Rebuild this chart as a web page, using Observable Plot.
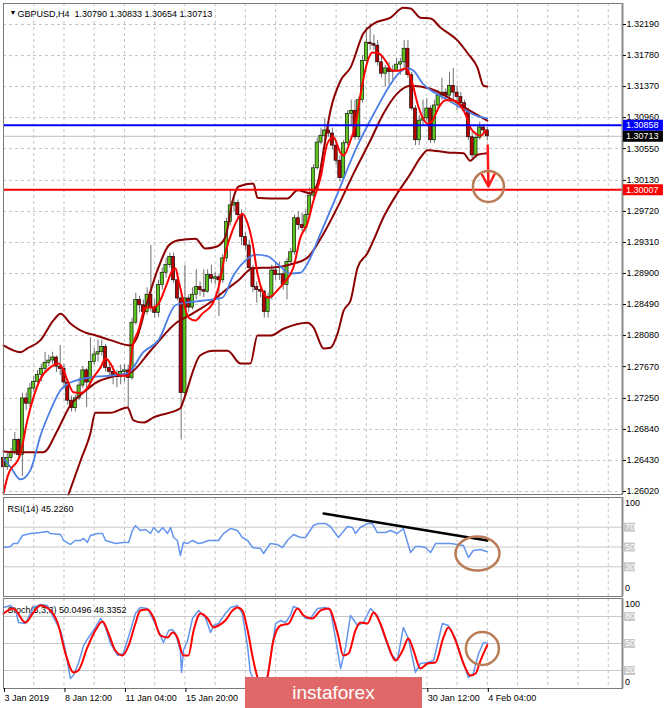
<!DOCTYPE html>
<html><head><meta charset="utf-8">
<script src="https://cdn.jsdelivr.net/npm/d3@7"></script>
<script src="https://cdn.jsdelivr.net/npm/@observablehq/plot@0.6"></script>
<style>
body{margin:0;background:#fff;}
#wrap{position:relative;width:665px;height:708px;overflow:hidden;background:#fff;}
#wrap svg{position:absolute;left:0;top:0;}
#wm{position:absolute;left:245px;top:677px;width:177px;height:31px;background:#e06868;color:#fff;font:19px "Liberation Sans",Arial,sans-serif;display:flex;align-items:center;justify-content:center;}
</style></head><body><div id="wrap"></div>
<script>
// ---------- DATA ----------
const header = "GBPUSD,H4  1.30790 1.30833 1.30654 1.30713";
const priceTicks = [1.26020,1.26430,1.26840,1.27250,1.27670,1.28080,1.28490,1.28900,1.29310,1.29720,1.30130,1.30550,1.30960,1.31370,1.31780,1.32190];
const open = [1.2646,1.2634,1.2646,1.2654,1.2670,1.2650,1.2725,1.2718,1.2738,1.2747,1.2756,1.2764,1.2772,1.2775,1.2779,1.2767,1.2764,1.2746,1.2722,1.2712,1.2725,1.2742,1.2762,1.2746,1.2773,1.2783,1.2786,1.2793,1.2765,1.2760,1.2756,1.2753,1.2760,1.2762,1.2752,1.2825,1.2855,1.2848,1.2839,1.2862,1.2845,1.2838,1.2875,1.2891,1.2901,1.2912,1.2881,1.2857,1.2732,1.2857,1.2845,1.2862,1.2872,1.2868,1.2866,1.2888,1.2883,1.2885,1.2881,1.2910,1.2958,1.2980,1.2983,1.2967,1.2938,1.2927,1.2897,1.2872,1.2868,1.2866,1.2839,1.2859,1.2894,1.2888,1.2889,1.2875,1.2905,1.2918,1.2963,1.2954,1.2950,1.2967,1.2993,1.3029,1.3063,1.3072,1.3079,1.3075,1.3059,1.3039,1.3016,1.3062,1.3101,1.3105,1.3070,1.3119,1.3171,1.3195,1.3193,1.3191,1.3169,1.3154,1.3161,1.3156,1.3158,1.3166,1.3169,1.3187,1.3152,1.3108,1.3066,1.3092,1.3095,1.3108,1.3066,1.3112,1.3125,1.3129,1.3125,1.3138,1.3129,1.3123,1.3115,1.3105,1.3070,1.3046,1.3069,1.3083,1.30790];
const high = [1.2650,1.2654,1.2659,1.2680,1.2672,1.2732,1.2732,1.2745,1.2754,1.2762,1.2770,1.2786,1.2782,1.2786,1.2781,1.2795,1.2770,1.2749,1.2728,1.2729,1.2752,1.2767,1.2765,1.2805,1.2791,1.2802,1.2802,1.2796,1.2773,1.2768,1.2762,1.2769,1.2770,1.2769,1.2831,1.2864,1.2860,1.2855,1.2871,1.2927,1.2855,1.2881,1.2897,1.2910,1.2917,1.2917,1.2887,1.2868,1.2901,1.2862,1.2871,1.2895,1.2879,1.2895,1.2895,1.2901,1.2892,1.2889,1.2915,1.2963,1.3000,1.2990,1.2987,1.2974,1.2944,1.2934,1.2901,1.2879,1.2876,1.2868,1.2864,1.2901,1.2904,1.2905,1.2894,1.2910,1.2923,1.2967,1.2971,1.2970,1.2974,1.3003,1.3034,1.3069,1.3082,1.3095,1.3086,1.3082,1.3066,1.3046,1.3066,1.3105,1.3119,1.3119,1.3123,1.3178,1.3215,1.3220,1.3205,1.3198,1.3178,1.3165,1.3169,1.3165,1.3174,1.3174,1.3198,1.3198,1.3156,1.3112,1.3099,1.3119,1.3121,1.3112,1.3119,1.3132,1.3148,1.3134,1.3156,1.3161,1.3138,1.3129,1.3119,1.3108,1.3076,1.3075,1.3090,1.3087,1.30833];
const low = [1.2630,1.2630,1.2641,1.2650,1.2643,1.2622,1.2709,1.2713,1.2733,1.2745,1.2747,1.2759,1.2767,1.2770,1.2759,1.2755,1.2738,1.2716,1.2707,1.2707,1.2722,1.2738,1.2713,1.2743,1.2769,1.2773,1.2781,1.2760,1.2752,1.2743,1.2739,1.2743,1.2747,1.2709,1.2749,1.2822,1.2838,1.2831,1.2835,1.2839,1.2831,1.2832,1.2868,1.2884,1.2897,1.2877,1.2854,1.2670,1.2725,1.2838,1.2842,1.2855,1.2860,1.2858,1.2864,1.2877,1.2875,1.2833,1.2877,1.2905,1.2953,1.2971,1.2963,1.2927,1.2921,1.2892,1.2865,1.2851,1.2858,1.2831,1.2831,1.2855,1.2881,1.2881,1.2868,1.2855,1.2901,1.2914,1.2947,1.2945,1.2945,1.2963,1.2989,1.3027,1.3060,1.3066,1.3070,1.3053,1.3033,1.3011,1.3013,1.3059,1.3086,1.3066,1.3066,1.3115,1.3169,1.3185,1.3185,1.3164,1.3148,1.3136,1.3139,1.3145,1.3156,1.3152,1.3161,1.3148,1.3105,1.3059,1.3059,1.3086,1.3090,1.3062,1.3062,1.3108,1.3119,1.3121,1.3119,1.3119,1.3105,1.3108,1.3099,1.3066,1.3040,1.3042,1.3066,1.3072,1.30654];
const close = [1.2634,1.2646,1.2654,1.2670,1.2650,1.2725,1.2718,1.2738,1.2747,1.2756,1.2764,1.2772,1.2775,1.2779,1.2767,1.2764,1.2746,1.2722,1.2712,1.2725,1.2742,1.2762,1.2746,1.2773,1.2783,1.2786,1.2793,1.2765,1.2760,1.2756,1.2753,1.2760,1.2762,1.2752,1.2825,1.2855,1.2848,1.2839,1.2862,1.2845,1.2838,1.2875,1.2891,1.2901,1.2912,1.2881,1.2857,1.2732,1.2857,1.2845,1.2862,1.2872,1.2868,1.2866,1.2888,1.2883,1.2885,1.2881,1.2910,1.2958,1.2980,1.2983,1.2967,1.2938,1.2927,1.2897,1.2872,1.2868,1.2866,1.2839,1.2859,1.2894,1.2888,1.2889,1.2875,1.2905,1.2918,1.2963,1.2954,1.2950,1.2967,1.2993,1.3029,1.3063,1.3072,1.3079,1.3075,1.3059,1.3039,1.3016,1.3062,1.3101,1.3105,1.3070,1.3119,1.3171,1.3195,1.3193,1.3191,1.3169,1.3154,1.3161,1.3156,1.3158,1.3166,1.3169,1.3187,1.3152,1.3108,1.3066,1.3092,1.3095,1.3108,1.3066,1.3112,1.3125,1.3129,1.3125,1.3138,1.3129,1.3123,1.3115,1.3105,1.3070,1.3046,1.3069,1.3083,1.3079,1.30713];

const upperBand = [[0,1.2795],[4.5,1.2786],[6.3,1.2791],[9.8,1.2802],[13.2,1.2828],[15.1,1.2837],[17.7,1.2824],[22.2,1.2811],[23.8,1.2809],[28.3,1.2802],[33.6,1.2795],[35.2,1.2804],[37.6,1.2845],[41.0,1.2898],[43.7,1.2927],[46.3,1.2934],[50.8,1.2936],[53.4,1.2923],[56.1,1.2925],[58.7,1.2938],[60.6,1.2986],[62.2,1.3005],[66.1,1.3009],[67.2,1.2990],[70.6,1.2989],[75.1,1.2989],[77.8,1.3000],[81.2,1.2996],[83.1,1.3009],[84.7,1.3053],[86.5,1.3105],[89.2,1.3145],[91.8,1.3162],[95.2,1.3207],[97.9,1.3220],[102.4,1.3228],[105.8,1.3241],[107.7,1.3240],[110.3,1.3228],[113.0,1.3227],[115.6,1.3215],[120.1,1.3198],[122.8,1.3181],[125.4,1.3162],[127.0,1.3138],[128.0,1.3137]];
const middleBand = [[0,1.2655],[2.6,1.2654],[10.6,1.2654],[14.3,1.2683],[17.7,1.2716],[21.2,1.2733],[24.9,1.2747],[28.3,1.2753],[33.6,1.2759],[38.9,1.2788],[45.5,1.2824],[50.0,1.2837],[55.3,1.2854],[58.7,1.2868],[62.2,1.2881],[65.9,1.2897],[71.4,1.2898],[75.9,1.2902],[80.4,1.2911],[84.7,1.2943],[89.2,1.2986],[92.6,1.3022],[97.1,1.3066],[100.5,1.3101],[104.2,1.3128],[107.7,1.3138],[113.0,1.3134],[117.5,1.3123],[123.5,1.3105],[128.0,1.3092]];
const lowerBand = [[17.2,1.2598],[20.4,1.2643],[23.0,1.2679],[24.3,1.2706],[28.3,1.2706],[32.8,1.2713],[34.4,1.2696],[37.0,1.2693],[39.7,1.2700],[46.8,1.2712],[47.6,1.2722],[52.1,1.2782],[55.6,1.2788],[59.3,1.2788],[62.7,1.2771],[65.3,1.2771],[67.2,1.2808],[70.6,1.2808],[74.1,1.2817],[80.4,1.2825],[82.0,1.2819],[84.7,1.2791],[86.5,1.2792],[88.4,1.2811],[90.0,1.2841],[91.8,1.2854],[93.7,1.2898],[96.3,1.2917],[97.9,1.2934],[100.5,1.2964],[104.2,1.2996],[107.7,1.3022],[110.3,1.3043],[112.2,1.3053],[117.5,1.3050],[121.7,1.3049],[123.5,1.3039],[125.4,1.3047],[128.0,1.3049]];
const fastMA = [[0,1.2600],[1.1,1.2622],[4.5,1.2652],[6.3,1.2696],[7.9,1.2726],[9.8,1.2751],[12.4,1.2766],[14.6,1.2771],[15.9,1.2762],[17.2,1.2745],[18.5,1.2733],[20.4,1.2732],[22.2,1.2739],[23.8,1.2753],[25.7,1.2766],[27.0,1.2778],[28.3,1.2771],[29.6,1.2759],[31.0,1.2755],[33.1,1.2755],[34.1,1.2792],[35.7,1.2815],[37.6,1.2845],[39.4,1.2845],[41.0,1.2850],[42.9,1.2872],[44.7,1.2894],[45.5,1.2897],[46.3,1.2881],[47.6,1.2854],[48.9,1.2832],[50.8,1.2828],[52.6,1.2837],[55.3,1.2850],[56.9,1.2872],[58.7,1.2917],[60.6,1.2947],[62.2,1.2964],[63.2,1.2969],[64.6,1.2956],[65.9,1.2930],[67.2,1.2890],[68.8,1.2864],[70.1,1.2858],[72.5,1.2868],[74.1,1.2877],[76.7,1.2898],[78.6,1.2938],[80.4,1.2956],[82.0,1.2986],[83.9,1.3017],[85.7,1.3062],[87.3,1.3070],[89.2,1.3049],[90.0,1.3046],[91.8,1.3066],[93.1,1.3086],[94.4,1.3125],[95.8,1.3161],[97.6,1.3182],[99.2,1.3181],[101.1,1.3171],[102.9,1.3158],[104.5,1.3158],[106.4,1.3161],[108.2,1.3141],[109.5,1.3115],[110.9,1.3096],[112.2,1.3088],[113.5,1.3092],[115.1,1.3109],[116.9,1.3119],[118.8,1.3119],[120.4,1.3115],[122.2,1.3101],[123.5,1.3083],[124.9,1.3075],[126.2,1.3072],[127.5,1.3079]];
const slowMA = [[0,1.2646],[1.9,1.2634],[4.5,1.2618],[7.1,1.2630],[9.8,1.2676],[12.4,1.2709],[15.1,1.2736],[17.7,1.2746],[21.2,1.2751],[24.9,1.2754],[28.3,1.2755],[32.8,1.2758],[37.0,1.2786],[41.0,1.2802],[45.5,1.2848],[48.9,1.2852],[52.6,1.2854],[57.9,1.2858],[60.8,1.2887],[64.0,1.2907],[66.7,1.2915],[69.8,1.2913],[73.3,1.2899],[75.9,1.2890],[78.6,1.2891],[80.4,1.2903],[83.9,1.2943],[88.4,1.2996],[93.1,1.3053],[98.4,1.3105],[101.9,1.3136],[104.5,1.3154],[106.9,1.3161],[108.5,1.3158],[110.9,1.3141],[114.3,1.3128],[117.7,1.3119],[121.4,1.3108],[124.9,1.3099],[128.0,1.3095]];
const resistance = 1.30858, support = 1.30007, bid = 1.30713;

const rsiLabel = "RSI(14) 45.2260";
const rsi = [[0,49.5],[1.9,50.5],[2.6,53.5],[3.7,53.5],[5.0,61.6],[7.1,63.6],[9.8,64.6],[11.6,65.7],[12.4,63.6],[15.1,62.6],[15.9,56.6],[17.7,52.5],[19.0,56.6],[20.4,56.6],[21.2,58.6],[22.2,54.5],[23.0,61.6],[24.9,63.6],[26.2,63.6],[27.0,56.6],[28.8,54.5],[29.6,53.5],[31.7,54.5],[33.1,54.5],[34.1,66.7],[34.9,71.7],[36.2,66.7],[37.6,67.7],[38.9,63.6],[39.7,69.7],[41.0,64.6],[42.1,69.7],[43.4,63.6],[44.2,69.7],[45.0,59.6],[46.0,56.6],[46.8,41.4],[47.6,54.5],[48.7,53.5],[50.0,56.6],[51.6,53.5],[52.9,54.5],[54.2,56.6],[56.9,56.6],[58.2,63.6],[60.1,68.7],[61.9,66.7],[63.2,59.6],[64.6,56.6],[65.9,49.5],[68.0,48.5],[68.8,43.4],[70.6,53.5],[72.5,52.5],[73.8,49.5],[75.1,56.6],[76.7,62.6],[78.6,59.6],[79.9,59.6],[82.0,71.7],[83.3,73.7],[85.2,73.7],[86.5,70.7],[88.6,59.6],[91.0,70.7],[92.3,69.7],[93.1,63.6],[94.4,69.7],[96.3,73.7],[97.6,73.7],[98.9,64.6],[101.1,64.6],[102.4,66.7],[104.2,63.6],[105.8,68.7],[107.7,44.4],[109.0,50.5],[110.3,50.5],[111.6,49.5],[113.0,44.4],[114.3,53.5],[116.4,53.5],[118.3,53.5],[120.1,52.5],[121.7,51.5],[123.0,39.4],[124.3,46.5],[126.2,47.5],[128.0,45.2]];
const rsiTrend = [[84.7,83.8],[128.0,56.6]];
const rsiLevels = [70,50,30];

const stochLabel = "Stoch(5,3,3) 50.0496 48.3352";
const stochK = [[0,90],[1.9,92.2],[3.2,86.7],[4.0,73.3],[5.8,72.2],[6.6,78.9],[7.9,90],[9.8,93.3],[11.6,92.2],[13.2,78.9],[15.1,64.4],[16.4,42.2],[17.7,11.1],[18.5,14.4],[19.8,27.8],[21.2,47.8],[22.5,56.7],[23.8,64.4],[25.7,77.8],[27.0,67.8],[28.3,50],[30.2,36.7],[31.7,38.9],[33.6,64.4],[34.9,83.3],[36.2,90],[38.1,88.9],[39.7,75.6],[41.0,64.4],[42.3,51.1],[43.7,64.4],[44.7,65.6],[45.5,61.1],[46.8,42.2],[47.1,17.8],[47.6,42.2],[48.7,53.3],[50.0,77.8],[51.6,86.7],[53.4,78.9],[54.8,62.2],[55.6,70],[56.9,72.2],[58.7,83.3],[60.1,90],[61.9,92.2],[63.2,83.3],[64.6,45.6],[65.3,17.8],[67.2,2],[68.8,2],[69.8,12.2],[72.0,72.2],[73.3,75.6],[74.6,73.3],[75.9,81.1],[76.7,91.1],[78.0,88.9],[79.9,77.8],[81.2,77.8],[83.1,88.9],[85.2,90],[86.5,86.7],[87.8,56.7],[89.2,22.2],[90.5,45.6],[91.8,81.1],[93.7,70],[95.2,73.3],[97.1,88.9],[98.9,81.1],[100.5,61.1],[102.4,38.9],[104.2,31.1],[105.8,67.8],[107.1,55.6],[109.0,17.8],[110.3,27.8],[112.2,28.9],[113.8,31.1],[116.1,72.2],[117.7,70],[119.6,55.6],[121.4,31.1],[123.0,12.2],[124.3,16.7],[125.7,38.9],[127.0,51.1],[128.0,50.05]];
const stochD = [[0,83.3],[2.6,88.9],[5.8,73.3],[7.9,84.4],[9.8,92.2],[12.4,86.7],[14.3,73.3],[16.4,38.9],[18.5,17.8],[19.8,20],[22.2,45.6],[24.3,64.4],[26.2,74.4],[27.8,61.1],[29.6,42.2],[31.5,36.7],[33.1,47.8],[34.9,72.2],[36.2,86.7],[38.1,87.8],[39.7,78.9],[41.5,58.9],[43.4,56.7],[44.7,62.2],[46.0,56.7],[47.6,36.7],[48.9,36.7],[50.3,64.4],[52.1,83.3],[54.0,77.8],[55.6,67.8],[56.9,70],[58.7,75.6],[60.6,86.7],[61.9,90],[63.2,86.7],[64.6,64.4],[66.1,31.1],[67.2,12.2],[68.5,2],[69.8,12.2],[71.4,53.3],[73.3,70],[75.4,72.2],[77.8,88.9],[79.4,81.1],[81.7,77.8],[83.9,86.7],[86.0,88.9],[88.4,61.1],[89.9,36.7],[91.3,38.9],[93.1,64.4],[94.4,73.3],[96.3,72.2],[97.9,84.4],[99.7,72.2],[101.6,50],[103.7,31.1],[105.6,42.2],[107.1,55.6],[108.5,42.2],[110.3,22.2],[112.2,27.8],[114.3,28.9],[116.4,56.7],[117.7,67.8],[119.6,53.3],[121.7,27.8],[123.5,14.4],[124.9,16.7],[126.2,31.1],[128.0,48.3]];
const stochLevels = [80,50,20];

// date labels visible below the chart (those under the watermark are not shown)
const labelBars = [0,16,32,48,112,128];
const dateLabels = ["3 Jan 2019","8 Jan 12:00","11 Jan 04:00","15 Jan 20:00","30 Jan 12:00","4 Feb 04:00"];

// ---------- CHART ----------
const FONT = "Liberation Sans, Arial, sans-serif";
const XD = [0, 163.77];
const gridBars = d3.range(8, 164, 8);
const bars = close.map((c, i) => ({i, o: open[i], h: high[i], l: low[i], c}));
const labelMap = new Map(labelBars.map((b, k) => [b, dateLabels[k]]));
const L = (data, o) => Plot.line(data, {x: d => d[0], y: d => d[1], curve: "monotone-x", ...o});
const base = {width: 665, height: 708, marginLeft: 3, marginRight: 43,
  style: {background: "transparent", fontFamily: FONT, fontSize: "9px", color: "#000", overflow: "visible"},
  x: {domain: XD, axis: null}, color: {type: "identity"}};
const grid = () => Plot.ruleX(gridBars, {stroke: "#c4c4c4", strokeDasharray: "3,3"});
const borders = () => [Plot.frame({stroke: "#7a7a7a"}), Plot.ruleX([XD[1]], {stroke: "#8a8a8a", strokeWidth: 2})];
const tag = (v, color) => [
  Plot.ruleY([v], {x1: 164.0, x2: 174.6, stroke: color, strokeWidth: 11}),
  Plot.text([v], {x: 164.7, y: d => d, text: d => d.toFixed(5), fill: "#fff", textAnchor: "start", fontSize: 9})
];
const ellipse = {draw(ctx) { const rx = 22, ry = 17, k = 0.5523;
  ctx.moveTo(rx, 0); ctx.bezierCurveTo(rx, ry*k, rx*k, ry, 0, ry); ctx.bezierCurveTo(-rx*k, ry, -rx, ry*k, -rx, 0);
  ctx.bezierCurveTo(-rx, -ry*k, -rx*k, -ry, 0, -ry); ctx.bezierCurveTo(rx*k, -ry, rx, -ry*k, rx, 0); ctx.closePath(); }};

const mainPlot = Plot.plot({...base, marginTop: 3, marginBottom: 214,
  y: {domain: [1.259804, 1.324673], axis: null, label: null},
  marks: [
    grid(),
    Plot.ruleY(priceTicks, {stroke: "#c4c4c4", strokeDasharray: "3,3"}),
    Plot.ruleY([bid], {stroke: "#bdbdbd"}),
    Plot.ruleX(bars, {x: "i", y1: "l", y2: "h", stroke: "#707070"}),
    Plot.rect(bars, {x1: d => d.i - 0.42, x2: d => d.i + 0.42, y1: "o", y2: "c",
      fill: d => d.c >= d.o ? "#5cc21c" : "#b80000", stroke: "#000", strokeWidth: 0.6}),
    L(upperBand, {stroke: "#8b0000", strokeWidth: 2}),
    L(middleBand, {stroke: "#8b0000", strokeWidth: 2}),
    L(lowerBand, {stroke: "#8b0000", strokeWidth: 2}),
    L(slowMA, {stroke: "#4a7ee6", strokeWidth: 1.8}),
    L(fastMA, {stroke: "#ff0000", strokeWidth: 2}),
    Plot.ruleY([resistance], {stroke: "#0000ff", strokeWidth: 2}),
    Plot.ruleY([support], {stroke: "#ff0000", strokeWidth: 2}),
    Plot.arrow([{x1: 128.1, y1: 1.3059, x2: 128.3, y2: 1.3005}], {x1: "x1", y1: "y1", x2: "x2", y2: "y2", stroke: "#ff1a1a", strokeWidth: 2.5, headLength: 11, headAngle: 55}),
    Plot.dot([{x: 128.3, y: 1.3005}], {x: "x", y: "y", r: 15.5, stroke: "#b97c55", strokeWidth: 2.5, fill: "none"}),
    ...borders(),
    Plot.axisY({anchor: "right", ticks: priceTicks, tickFormat: d => d.toFixed(5), tickSize: 3, tickPadding: 1, fontSize: 9, label: null}),
    ...tag(resistance, "#0000ff"),
    ...tag(bid, "#000000"),
    ...tag(support, "#ff0000"),
    Plot.text(["\u25BC"], {frameAnchor: "top-left", dx: 6, dy: 7, fontSize: 7, fill: "#000"}),
    Plot.text([header], {frameAnchor: "top-left", dx: 14, dy: 7, textAnchor: "start", fontSize: 9, fill: "#000"})
  ]});

const levelLabels = (levels) => [
  Plot.ruleY(levels, {x1: 164.2, x2: 167.2, stroke: "#c8c8c8", strokeWidth: 9}),
  Plot.text(levels, {x: 164.4, y: d => d, text: d => String(d), fill: "#fff", textAnchor: "start", fontSize: 9})
];

const rsiPlot = Plot.plot({...base, marginTop: 497, marginBottom: 112,
  y: {domain: [0, 100], axis: null, label: null},
  marks: [
    grid(),
    Plot.ruleY(rsiLevels, {stroke: "#c8c8c8"}),
    L(rsi, {stroke: "#6495ed", strokeWidth: 1.5, curve: "linear"}),
    L(rsiTrend, {stroke: "#000", strokeWidth: 2.5, curve: "linear"}),
    Plot.dot([{x: 125.4, y: 43.4}], {x: "x", y: "y", symbol: ellipse, stroke: "#b97c55", strokeWidth: 2.5, fill: "none"}),
    ...borders(),
    ...levelLabels(rsiLevels),
    Plot.text(["100"], {x: 164.4, y: 100, text: d => d, dy: 6, textAnchor: "start", fontSize: 9, fill: "#000"}),
    Plot.text(["0"], {x: 164.4, y: 0, text: d => d, dy: -8, textAnchor: "start", fontSize: 9, fill: "#000"}),
    Plot.text([rsiLabel], {frameAnchor: "top-left", dx: 4, dy: 8, textAnchor: "start", fontSize: 9, fill: "#000"})
  ]});

const stochPlot = Plot.plot({...base, marginTop: 598, marginBottom: 20,
  y: {domain: [0, 100], axis: null, label: null},
  marks: [
    grid(),
    Plot.ruleY(stochLevels, {stroke: "#c8c8c8"}),
    Plot.text([stochLabel], {frameAnchor: "top-left", dx: 4, dy: 8, textAnchor: "start", fontSize: 9, fill: "#000"}),
    L(stochK, {stroke: "#6495ed", strokeWidth: 1.5, curve: "linear"}),
    L(stochD, {stroke: "#ff0000", strokeWidth: 2, curve: "monotone-x"}),
    Plot.dot([{x: 126.7, y: 44.4}], {x: "x", y: "y", r: 16.5, stroke: "#b97c55", strokeWidth: 2.5, fill: "none"}),
    ...borders(),
    ...levelLabels(stochLevels),
    Plot.text(["100"], {x: 164.4, y: 100, text: d => d, dy: 6, textAnchor: "start", fontSize: 9, fill: "#000"}),
    Plot.text(["0"], {x: 164.4, y: 0, text: d => d, dy: -6, textAnchor: "start", fontSize: 9, fill: "#000"}),
    Plot.axisX({anchor: "bottom", ticks: labelBars, tickFormat: d => labelMap.get(d), tickSize: 4, tickPadding: 2, textAnchor: "start", dx: 1, fontSize: 9, label: null})
  ]});

const wrap = document.getElementById("wrap");
wrap.append(mainPlot, rsiPlot, stochPlot);
const wm = document.createElement("div");
wm.id = "wm"; wm.textContent = "instaforex";
wrap.append(wm);
</script></body></html>
